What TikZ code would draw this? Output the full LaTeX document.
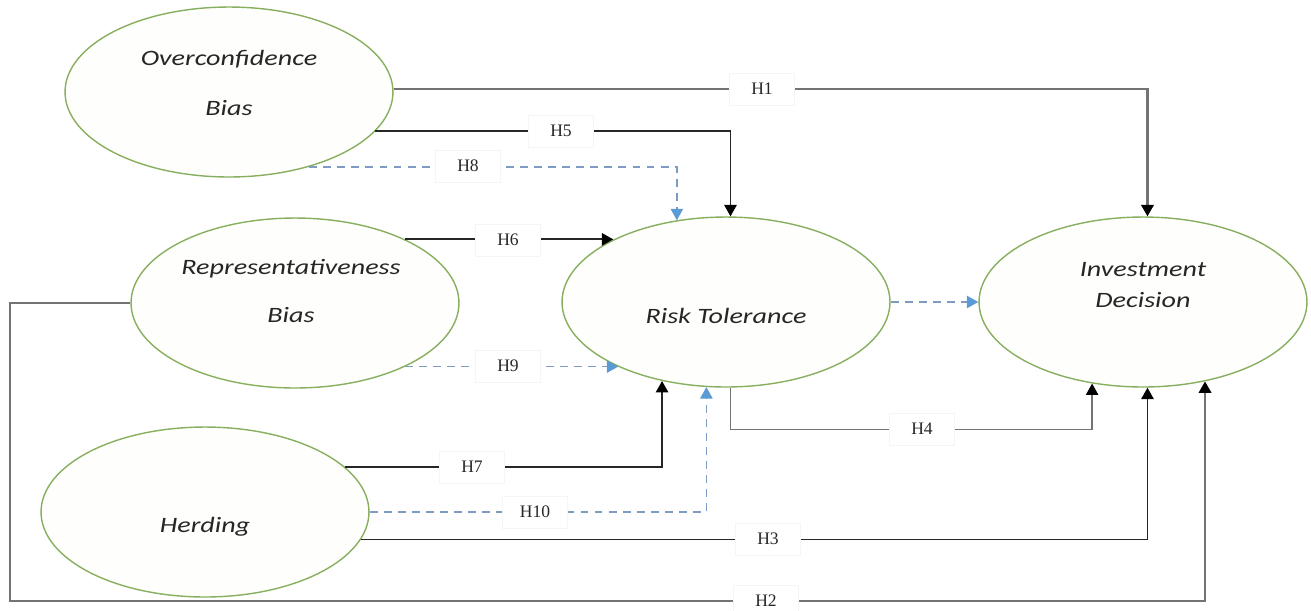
\documentclass[tikz,border=0pt]{standalone}
\usepackage{fontspec}
\usetikzlibrary{shapes.geometric,arrows.meta}
\newfontfamily\ellfont[FakeStretch=1.28]{Carlito}
\newfontfamily\hypfont{Liberation Serif}
\definecolor{ellgreen}{RGB}{135,175,95}
\definecolor{ellfill}{RGB}{254,255,252}
\definecolor{dashblue}{RGB}{125,155,195}
\definecolor{tipblue}{RGB}{91,155,213}

\begin{document}
\begin{tikzpicture}[x=0.02cm, y=-0.02cm,
    construct/.style={ellipse, draw=ellgreen, line width=0.8pt, fill=ellfill,
        minimum width=6.56cm, minimum height=3.4cm, inner sep=0pt},
    cname/.style={font=\ellfont\itshape\fontsize{12.5}{#1}\selectfont, align=center, text=black!85},
    cname/.default=15,
    conn/.style={draw=black!85, line width=1.1pt, -{Triangle[length=6.5pt, width=7pt, color=black]}},
    greyconn/.style={conn, draw=black!55, line width=1.4pt},
    mediate/.style={draw=dashblue, line width=0.9pt, dash pattern=on 4.5pt off 3.5pt,
        -{Triangle[length=6.5pt, width=7pt, color=tipblue]}},
    hyp/.style={fill=white, draw=black!4, minimum width=1.3cm, minimum height=0.64cm,
        inner sep=1pt, font=\hypfont\fontsize{10}{12}\selectfont, text=black!85}]
    \useasboundingbox (0,0) rectangle (1311,610);

    % Constructs
    \node[construct] (ov) at (229,92) {};
    \node[construct] (rb) at (295,303) {};
    \node[construct] (hd) at (205,512) {};
    \node[construct] (rt) at (726,302) {};
    \node[construct] (id) at (1143,302) {};

    \node[cname=28] (ovtxt) at (229,83) {Overconfidence\\Bias};
    \node[cname=27.2] (rbtxt) at (291,291) {Representativeness\\Bias};
    \node[cname] (hdtxt) at (205,527) {Herding};
    \node[cname] (rttxt) at (726,316) {Risk Tolerance};
    \node[cname=18.1] (idtxt) at (1143,285) {Investment\\Decision};

    % Paths into risk tolerance
    \draw[conn] (ov.-15) -| (rt.87);
    \draw[mediate] (ov.-43) -| (rt.121);
    \draw[conn] (rb.30) -- (rb.30 -| rt.151);
    \draw[mediate] (rb.-30) -- (rb.-30 -| rt.-149);
    \draw[conn] (hd.18) -| (rt.-129);
    \draw[mediate] (hd.east) -| (rt.-103);

    % Paths into investment decision
    \draw[greyconn] (ov.1) -| (id.87);
    \draw[mediate] (rt.east) -- (id.west);
    \draw[greyconn, line width=0.8pt] (rt.-87) -- ++(0,42) -| (id.-122);
    \draw[conn] (hd.-10) -| (id.-87);
    \coordinate (h2bend) at (10,601);
    \draw[greyconn] (rb.west) -| (h2bend) -| (id.-52);

    % Hypothesis labels
    \node[hyp] (h1) at (762,89) {H1};
    \node[hyp] (h2) at (766,601) {H2};
    \node[hyp] (h3) at (768,539) {H3};
    \node[hyp] (h4) at (922,429) {H4};
    \node[hyp] (h5) at (561,131) {H5};
    \node[hyp] (h6) at (508,240) {H6};
    \node[hyp] (h7) at (472,467) {H7};
    \node[hyp] (h8) at (468,166) {H8};
    \node[hyp] (h9) at (508,366) {H9};
    \node[hyp] (h10) at (535,512) {H10};
\end{tikzpicture}
\end{document}
